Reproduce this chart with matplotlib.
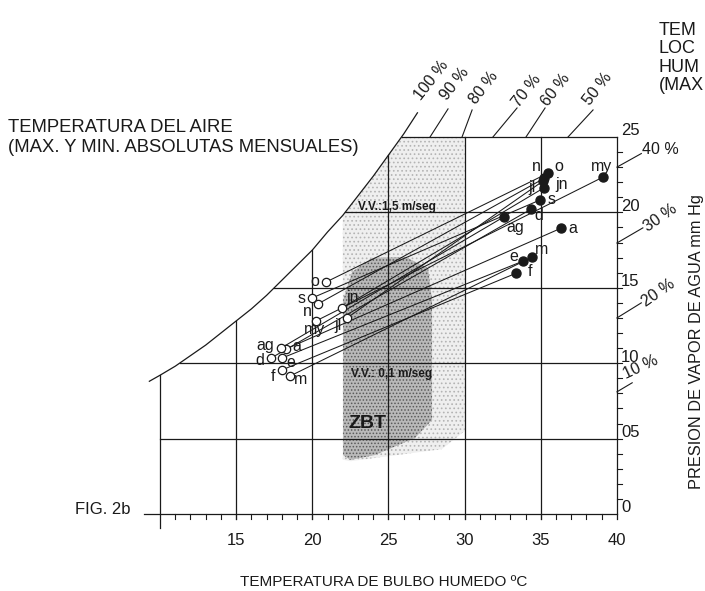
import matplotlib
matplotlib.use("Agg")
import matplotlib.pyplot as plt
import numpy as np

plt.rcParams['font.family'] = ['Liberation Sans', 'DejaVu Sans']
plt.rcParams['hatch.linewidth'] = 0.7

# ---- data -------------------------------------------------------------
months = ['e', 'f', 'm', 'a', 'my', 'jn', 'jl', 'ag', 's', 'o', 'n', 'd']

# wet-bulb temperature (ºC) and vapour pressure (mm Hg): monthly minimum
tw_min = [18.01, 18.01, 18.54, 18.27, 20.24, 21.95, 22.28, 17.94, 19.98, 20.90, 20.37, 17.29]
vp_min = [10.34, 9.55, 9.15, 10.94, 12.80, 13.66, 13.00, 11.00, 14.32, 15.38, 13.93, 10.34]
# monthly maximum
tw_max = [33.86, 33.37, 34.40, 36.33, 39.07, 35.23, 35.15, 32.61, 34.95, 35.46, 35.23, 34.34]
vp_max = [16.78, 15.96, 17.02, 18.95, 22.33, 21.64, 22.08, 19.72, 20.82, 22.59, 22.26, 20.20]

# label offsets (pixels) next to each marker
off_min = {'e': (9, -4), 'f': (-9, -7), 'm': (10, -4), 'a': (11, 2), 'my': (-1, -9),
           'jn': (11, 10), 'jl': (-9, -8), 'ag': (-16, 3), 's': (-10, 0), 'o': (-11, 1),
           'n': (-11, -8), 'd': (-11, -2)}
off_max = {'my': (-1, 11), 'o': (11, 7), 'n': (-8, 12), 'jn': (17, 3), 'jl': (-11, -7),
           's': (12, 0), 'd': (8, -6), 'ag': (11, -11), 'a': (12, 0), 'm': (10, 8),
           'e': (-10, 4), 'f': (14, 2)}

# saturation (100 %) curve
sat_t = [9.3, 10, 11, 12, 13, 14, 15, 16, 17, 18, 19, 20, 21, 22, 23, 24, 25, 26, 26.9]
sat_p = [8.8, 9.2, 9.8, 10.5, 11.2, 12.0, 12.8, 13.6, 14.5, 15.5, 16.5, 17.5, 18.7,
         19.8, 21.1, 22.4, 23.8, 25.2, 26.6]

# relative-humidity lines leaving the top edge
rh_top_labels = ['90 %', '80 %', '70 %', '60 %', '50 %']
rh_top_x0 = [27.73, 29.83, 31.86, 34.03, 36.79]
rh_top_x1 = [28.91, 30.49, 33.44, 35.28, 38.43]
rh_top_y1 = [26.86, 26.79, 26.92, 26.92, 26.79]

# relative-humidity lines leaving the right edge
rh_side_labels = ['40 %', '30 %', '20 %', '10 %']
rh_side_y0 = [23.0, 17.97, 13.0, 8.1]
rh_side_x1 = [41.6, 41.7, 41.6, 41.0]
rh_side_y1 = [23.9, 18.97, 14.0, 8.7]

x_ticks = [15, 20, 25, 30, 35, 40]
y_ticks = [0, 5, 10, 15, 20, 25]
y_ticklabels = ['0', '05', '10', '15', '20', '25']

# comfort zones (ZBT)
zone_hi_t = [22.0, 22.0, 23.0, 24.0, 25.0, 25.85, 30.0, 30.0, 28.5, 22.5]
zone_hi_p = [3.6, 19.8, 21.1, 22.4, 23.8, 25.0, 25.0, 5.5, 4.3, 3.5]
zone_lo_t = [22.02, 22.61, 23.92, 26.09, 27.6, 27.86, 27.86, 26.74, 24.12, 22.48, 22.02]
zone_lo_p = [14.19, 16.05, 16.98, 17.04, 16.31, 14.19, 6.23, 5.04, 3.91, 3.58, 3.91]

# ---- figure -----------------------------------------------------------
W, H = 705, 591
fig = plt.figure(figsize=(W / 100, H / 100), dpi=100)
ax = fig.add_axes([0, 0, 1, 1])
ax.set_xlim(-0.506, 45.78)
ax.set_ylim(-5.106, 34.08)
ax.axis('off')

ink = '#1a1a1a'

def px(x, y):
    return x / W, 1 - y / H

# stippled zones
ax.fill(zone_hi_t, zone_hi_p, facecolor='#efefef', edgecolor='#b4b4b4',
        hatch='....', linewidth=0, zorder=1)
ax.fill(zone_lo_t, zone_lo_p, facecolor='#b9b9b9', edgecolor='#5a5a5a',
        hatch='.....', linewidth=0, zorder=1.5)

# saturation curve
ax.plot(sat_t, sat_p, color=ink, lw=0.9, zorder=3)

# horizontal grid lines from the curve to the right edge
for p in y_ticks[1:]:
    x0 = 10.0 if p == 5 else float(np.interp(p, sat_p, sat_t))
    ax.plot([x0, 40], [p, p], color=ink, lw=0.9, zorder=3)

# vertical grid lines from the base up to the curve / top edge
ax.plot([10, 10], [-0.9, float(np.interp(10, sat_t, sat_p))], color=ink, lw=0.9, zorder=3)
for t in x_ticks:
    top = min(25.0, float(np.interp(t, sat_t, sat_p)))
    ax.plot([t, t], [-0.3, top], color=ink, lw=0.9, zorder=3)

# base line and minor ticks
ax.plot([8.95, 40], [0, 0], color=ink, lw=0.9, zorder=3)
for t in range(11, 40):
    ax.plot([t, t], [0, -0.3], color=ink, lw=0.8, zorder=3)
for p in range(1, 25):
    ax.plot([40, 40.33], [p, p], color=ink, lw=0.8, zorder=3)

# tick labels
for t in x_ticks:
    ax.annotate(str(t), (t, 0), xytext=(0, -27), textcoords='offset pixels',
                ha='center', va='center', fontsize=12, color=ink)
for p, lab in zip(y_ticks, y_ticklabels):
    ax.annotate(lab, (40, p), xytext=(4, 6), textcoords='offset pixels',
                ha='left', va='center', fontsize=12, color=ink)

# relative-humidity segments
for x0, x1, y1 in zip(rh_top_x0, rh_top_x1, rh_top_y1):
    ax.plot([x0, x1], [25, y1], color=ink, lw=0.8, zorder=3)
for y0, x1, y1 in zip(rh_side_y0, rh_side_x1, rh_side_y1):
    ax.plot([40, x1], [y0, y1], color=ink, lw=0.8, zorder=3)

top_lab_pos = [(455, 84), (484, 88), (527, 91), (556, 90), (598, 89)]
fig.text(*px(431, 80), '100 %', rotation=52, ha='center', va='center', fontsize=11.5, color=ink)
for lab, (x, y) in zip(rh_top_labels, top_lab_pos):
    fig.text(*px(x, y), lab, rotation=52, ha='center', va='center', fontsize=11.5, color=ink)

side_lab_pos = [(660, 149, 0), (660, 218, 35), (658, 293, 35), (641, 367, 25)]
for lab, (x, y, r) in zip(rh_side_labels, side_lab_pos):
    fig.text(*px(x, y), lab, rotation=r, ha='center', va='center', fontsize=11.5, color=ink)

# monthly ranges
for i, m in enumerate(months):
    ax.plot([tw_min[i], tw_max[i]], [vp_min[i], vp_max[i]], color=ink, lw=0.75, zorder=4)
ax.plot(tw_min, vp_min, 'o', ms=6, mfc='white', mec=ink, mew=0.9, ls='none', zorder=5)
ax.plot(tw_max, vp_max, 'o', ms=6.5, mfc=ink, mec=ink, ls='none', zorder=5)
for i, m in enumerate(months):
    ax.annotate(m, (tw_min[i], vp_min[i]), xytext=off_min[m], textcoords='offset pixels',
                ha='center', va='center', fontsize=11.5, color=ink, zorder=6)
    ax.annotate(m, (tw_max[i], vp_max[i]), xytext=off_max[m], textcoords='offset pixels',
                ha='center', va='center', fontsize=11.5, color=ink, zorder=6)

# zone captions
fig.text(*px(397, 207), 'V.V.:1,5 m/seg', ha='center', va='center', fontsize=8.5,
         fontweight='bold', color=ink)
fig.text(*px(392, 374), 'V.V.: 0,1 m/seg', ha='center', va='center', fontsize=8.5,
         fontweight='bold', color=ink)
fig.text(*px(367, 423), 'ZBT', ha='center', va='center', fontsize=14,
         fontweight='bold', color=ink)

# titles
fig.text(*px(8, 128), 'TEMPERATURA DEL AIRE', ha='left', va='center', fontsize=13.3, color=ink)
fig.text(*px(8, 148), '(MAX. Y MIN. ABSOLUTAS MENSUALES)', ha='left', va='center',
         fontsize=13.3, color=ink)
fig.text(*px(704, 22), 'TEM\nLOC\nHUM\n(MAX', ha='right', va='top', fontsize=13,
         color=ink, linespacing=1.1, multialignment='left')
fig.text(*px(384, 582), 'TEMPERATURA DE BULBO HUMEDO ºC', ha='center', va='center',
         fontsize=11, color=ink)
fig.text(*px(697, 342), 'PRESION DE VAPOR DE AGUA mm Hg', rotation=90, ha='center',
         va='center', fontsize=11.8, color=ink)
fig.text(*px(75, 510), 'FIG. 2b', ha='left', va='center', fontsize=12, color=ink)

fig.savefig('out.png', dpi=100)
